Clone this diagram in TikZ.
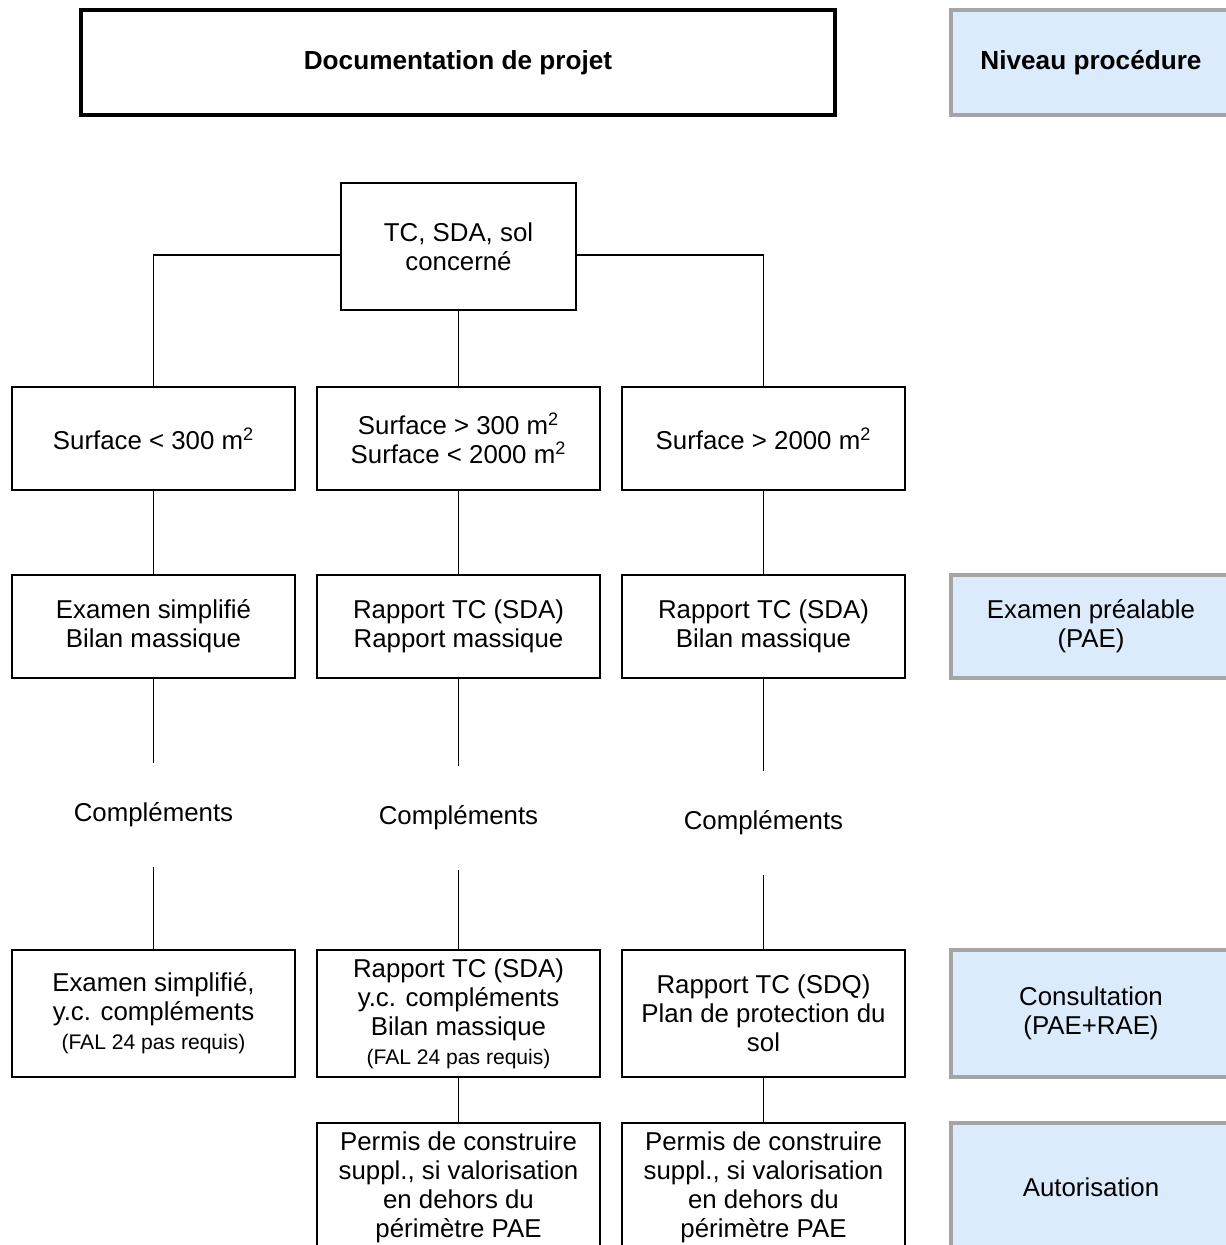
\documentclass[tikz,border=0pt]{standalone}
\usepackage{fontspec}
\setmainfont{Liberation Sans}
\usepackage{xcolor}
\definecolor{lvlblue}{RGB}{220,235,252}
\definecolor{lvlgray}{RGB}{165,165,165}
\newcommand{\notesize}{\fontsize{12}{13.5}\selectfont}
\usetikzlibrary{positioning,calc}

\begin{document}
\begin{tikzpicture}[x=0.02cm, y=-0.02cm,
    stepbox/.style={rectangle, draw=black, line width=0.9pt, fill=white,
                    minimum width=5.66cm, minimum height=2.06cm, align=center,
                    inner sep=2pt, font=\fontsize{14.7}{16.5}\selectfont},
    lvlbox/.style={rectangle, draw=lvlgray, line width=2.3pt, fill=lvlblue,
                   minimum width=5.6cm, align=center,
                   font=\fontsize{14.7}{16.5}\selectfont},
    complabel/.style={rectangle, minimum height=2.08cm, inner sep=0pt,
                      font=\fontsize{14.7}{16.5}\selectfont},
    link/.style={line width=0.9pt}
  ]
    \useasboundingbox (0,0) rectangle (1226,1245);

    % Header
    \node[rectangle, draw=black, line width=2.3pt, minimum width=15.08cm,
          minimum height=2.1cm, font=\fontsize{14.9}{16.5}\selectfont\bfseries]
          (doc) at (458,62.5) {Documentation de projet};
    \node[lvlbox, minimum height=2.1cm, font=\fontsize{14.9}{16.5}\selectfont\bfseries]
          (niveau) at (1091,62.5) {Niveau procédure};

    % Root
    \node[stepbox, minimum width=4.7cm, minimum height=2.54cm]
          (tc) at (458.5,246.5) {TC, SDA, sol\\concerné};

    % Surfaces
    \node[stepbox] (s1) at (153.5,438.5) {Surface < 300 m\textsuperscript{2}};
    \node[stepbox] (s2) at (458.5,438.5) {Surface > 300 m\textsuperscript{2}\\Surface < 2000 m\textsuperscript{2}};
    \node[stepbox] (s3) at (763.5,438.5) {Surface > 2000 m\textsuperscript{2}};

    % Examen prealable
    \node[stepbox] (e1) at (153.5,626.5) {Examen simplifié\\Bilan massique};
    \node[stepbox] (e2) at (458.5,626.5) {Rapport TC (SDA)\\Rapport massique};
    \node[stepbox] (e3) at (763.5,626.5) {Rapport TC (SDA)\\Bilan massique};
    \node[lvlbox, minimum height=2.06cm] (lvlpae) at (1091,626.5) {Examen préalable\\(PAE)};

    % Complements
    \node[complabel] (c1) at (153.5,815) {Compléments};
    \node[complabel] (c2) at (458.5,818) {Compléments};
    \node[complabel] (c3) at (763.5,823) {Compléments};

    % Consultation
    \node[stepbox, minimum height=2.54cm] (k1) at (153.5,1013.5)
          {Examen simplifié,\\y.c. compléments\\{\notesize (FAL 24 pas requis)}};
    \node[stepbox, minimum height=2.54cm] (k2) at (458.5,1013.5)
          {Rapport TC (SDA)\\y.c. compléments\\Bilan massique\\{\notesize (FAL 24 pas requis)}};
    \node[stepbox, minimum height=2.54cm] (k3) at (763.5,1013.5)
          {Rapport TC (SDQ)\\Plan de protection du\\sol};
    \node[lvlbox, minimum height=2.54cm] (lvlcons) at (1091,1013.5) {Consultation\\(PAE+RAE)};

    % Autorisation
    \node[stepbox, minimum height=2.56cm] (a2) at (458.5,1187)
          {Permis de construire\\suppl., si valorisation\\en dehors du\\périmètre PAE};
    \node[stepbox, minimum height=2.56cm] (a3) at (763.5,1187)
          {Permis de construire\\suppl., si valorisation\\en dehors du\\périmètre PAE};
    \node[lvlbox, minimum height=2.56cm] (lvlaut) at (1091,1187) {Autorisation};

    % Connectors
    \draw[link] ([yshift=-0.17cm]tc.west) -| (s1.north);
    \draw[link] ([yshift=-0.17cm]tc.east) -| (s3.north);
    \draw[link] (tc.south) -- (s2.north);
    \draw[link] (s1.south) -- (e1.north);
    \draw[link] (s2.south) -- (e2.north);
    \draw[link] (s3.south) -- (e3.north);
    \draw[link] (e1.south) -- (c1.north);
    \draw[link] (e2.south) -- (c2.north);
    \draw[link] (e3.south) -- (c3.north);
    \draw[link] (c1.south) -- (k1.north);
    \draw[link] (c2.south) -- (k2.north);
    \draw[link] (c3.south) -- (k3.north);
    \draw[link] (k2.south) -- (a2.north);
    \draw[link] (k3.south) -- (a3.north);
\end{tikzpicture}
\end{document}
